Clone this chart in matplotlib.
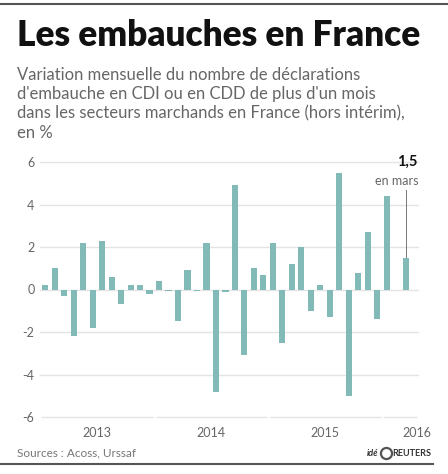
import numpy as np
import matplotlib.pyplot as plt

# monthly change, Jan 2013 .. Mar 2016
values = [0.2, 1.0, -0.3, -2.2, 2.2, -1.8, 2.3, 0.6, -0.7, 0.2, 0.2, -0.2,
          0.4, -0.05, -1.5, 0.9, -0.05, 2.2, -4.8, -0.1, 4.9, -3.1, 1.0, 0.7,
          2.2, -2.5, 1.2, 2.0, -1.0, 0.2, -1.3, 5.5, -5.0, 0.8, 2.7, -1.4,
          4.4, 0.0, 1.5]
years = ["2013", "2014", "2015", "2016"]
year_pos = [5.5, 17.5, 29.5, 39.2]
yticks = [-6, -4, -2, 0, 2, 4, 6]

W, H = 448, 474
fig = plt.figure(figsize=(W / 100, H / 100), dpi=100)
plt.rcParams['font.family'] = ['Lato', 'DejaVu Sans']

def fx(px):
    return px / W

def fy(py):
    return 1 - py / H

# axes: left 40px .. right 418px, top y=162 (6) .. bottom y=417 (-6)
ax = fig.add_axes([fx(40), fy(417), fx(418) - fx(40), fy(162) - fy(417)])
x = np.arange(len(values))
ax.set_xlim(-0.55, 39.3)
ax.set_ylim(-6, 6)

for t in yticks[1:]:
    ax.axhline(t, color="#e4e4e4", lw=1.0, zorder=0, clip_on=False)
# bottom line broken at year boundaries
bounds = [-0.55, 11.5, 23.5, 35.5, 39.3]
for a, b in zip(bounds[:-1], bounds[1:]):
    ax.hlines(-6, a + 0.15, b - 0.15, color="#e4e4e4", lw=1.0, zorder=0, clip_on=False)

ax.bar(x, values, width=0.65, color="#82bab7", zorder=2)

for s in ax.spines.values():
    s.set_visible(False)
ax.set_yticks(yticks)
ax.set_yticklabels([str(t) for t in yticks], color="#666666", fontsize=9)
ax.set_xticks(year_pos)
ax.set_xticklabels(years, color="#666666", fontsize=9)
ax.tick_params(length=0, pad=7)
ax.tick_params(axis="y", pad=4)

# last value annotation
ax.text(39.2, 6.0, "1,5", ha="right", va="center", fontsize=10.5,
        fontweight="bold", color="#111111")
ax.text(39.4, 5.1, "en mars", ha="right", va="center", fontsize=9,
        color="#666666")
ax.plot([38, 38], [4.7, 1.55], color="#777777", lw=0.7)

# header
fig.text(fx(17), fy(36), "Les embauches en France", fontsize=25.3,
         fontweight="heavy", color="#111111", va="center", ha="left")
sub = ["Variation mensuelle du nombre de déclarations",
       "d'embauche en CDI ou en CDD de plus d'un mois",
       "dans les secteurs marchands en France (hors intérim),",
       "en %"]
for i, line in enumerate(sub):
    fig.text(fx(17), fy(75 + i * 19.2), line, fontsize=12.0, color="#666666",
             va="center", ha="left")

# footer
fig.text(fx(17), fy(453), "Sources : Acoss, Urssaf", fontsize=8.5,
         color="#777777", va="center", ha="left")
fig.text(fx(378), fy(453), "idé", fontsize=6.5, fontweight="bold",
         style="italic", color="#333333", va="center", ha="right")
fig.add_artist(plt.Line2D([fx(386)], [fy(453)], marker="o", ms=8,
                          mfc="white", mec="#555555", mew=1.6))
fig.text(fx(431), fy(453), "REUTERS", fontsize=6.5, fontweight="bold",
         color="#333333", va="center", ha="right")

fig.add_artist(plt.Line2D([0, 1], [fy(4), fy(4)], color="#555555", lw=1.5))
fig.add_artist(plt.Line2D([0, fx(433)], [fy(464), fy(464)], color="#555555", lw=1.5))

fig.savefig("out.png", dpi=100)
